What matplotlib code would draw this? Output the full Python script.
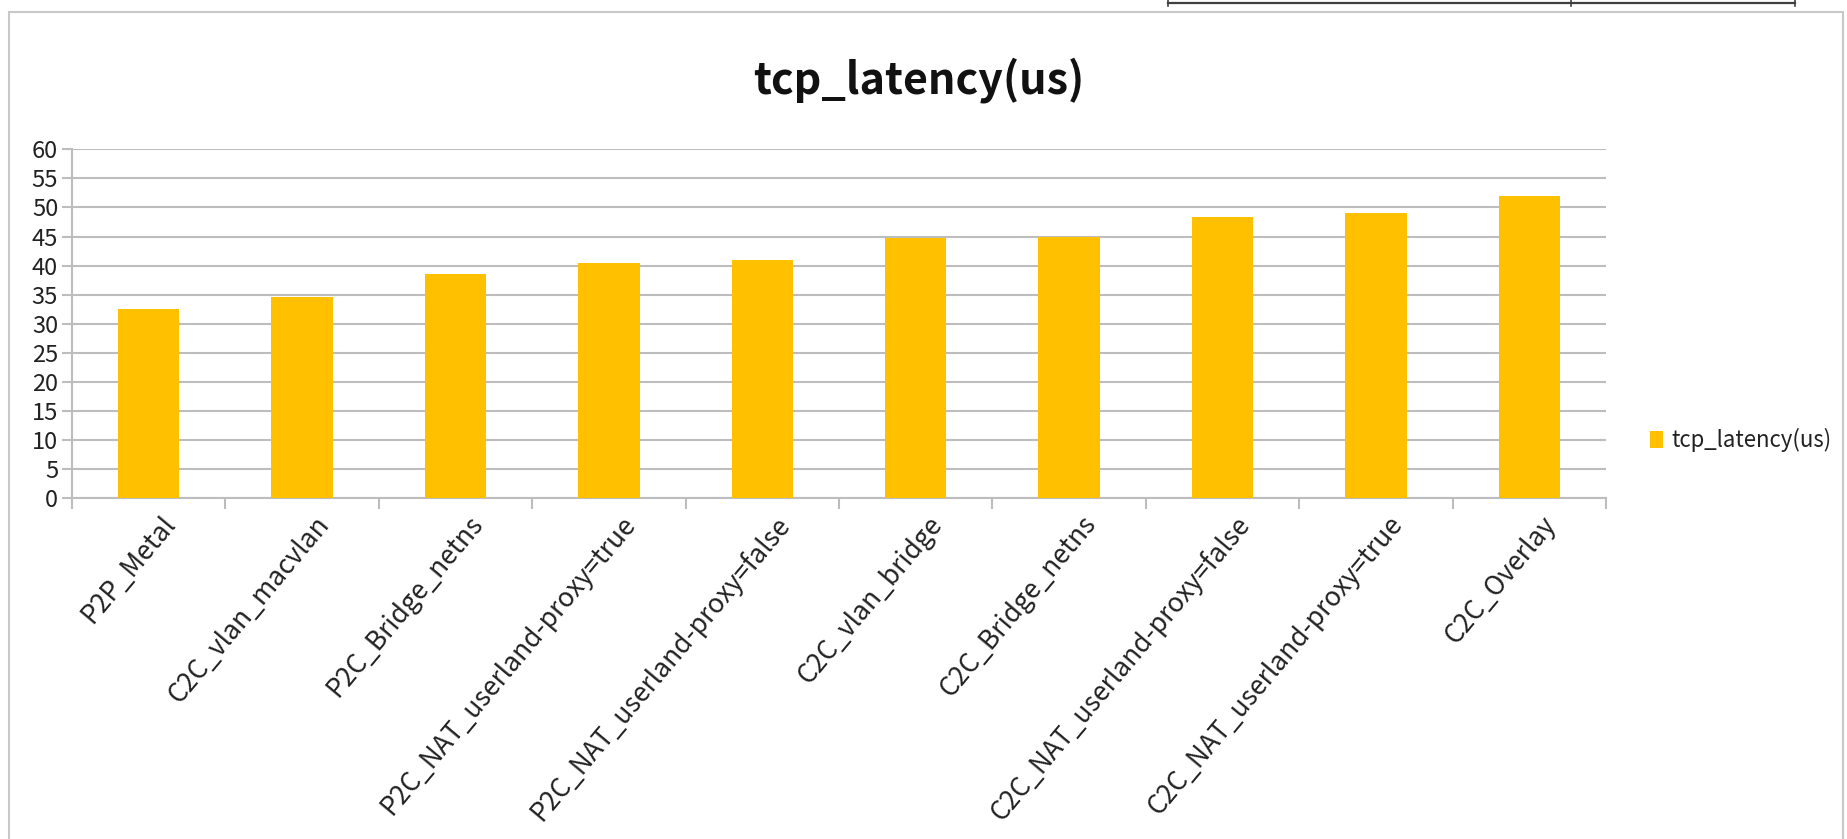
import numpy as np
import matplotlib
matplotlib.use('Agg')
import matplotlib.pyplot as plt
from matplotlib.lines import Line2D
from matplotlib.patches import Rectangle
import matplotlib.transforms as mtransforms

plt.rcParams['font.family'] = ['Noto Sans CJK KR', 'DejaVu Sans']

categories = ['P2P_Metal', 'C2C_vlan_macvlan', 'P2C_Bridge_netns',
              'P2C_NAT_userland-proxy=true', 'P2C_NAT_userland-proxy=false',
              'C2C_vlan_bridge', 'C2C_Bridge_netns',
              'C2C_NAT_userland-proxy=false', 'C2C_NAT_userland-proxy=true',
              'C2C_Overlay']
latency = [32.5, 34.6, 38.5, 40.5, 40.9, 44.7, 44.9, 48.4, 49.1, 51.9]
series_name = 'tcp_latency(us)'
yticks = list(range(0, 61, 5))

W, H = 1847, 839
fig = plt.figure(figsize=(W / 100, H / 100), dpi=100)

# chart frame (screenshot border)
fig.patches.append(Rectangle((9 / W, -0.01), (1843 - 9) / W, 1.01 - 12 / H,
                             transform=fig.transFigure, fill=False,
                             edgecolor='#c8c8c8', linewidth=1.5))
# leftover table edge at the very top of the screenshot
fig.lines.append(Line2D([1168 / W, 1795 / W], [1 - 3 / H, 1 - 3 / H],
                        transform=fig.transFigure, color='#404040', linewidth=1.6))
for xp in [1168, 1571, 1795]:
    fig.lines.append(Line2D([xp / W, xp / W], [1 - 6 / H, 1.0],
                            transform=fig.transFigure, color='#404040', linewidth=1.2))

ax = fig.add_axes([72 / W, 1 - 498.3 / H, (1606 - 72) / W, (498.3 - 149.3) / H])
x = np.arange(len(categories))
bars = ax.bar(x, latency, width=0.4, color='#FFC000', zorder=3, label=series_name)

ax.set_xlim(-0.5, len(categories) - 0.5)
ax.set_ylim(0, 60)
ax.set_yticks(yticks)
ax.set_yticklabels([str(v) for v in yticks], fontsize=17)
ax.yaxis.grid(True, color='#bdbdbd', linewidth=1.5, zorder=0)
ax.set_axisbelow(True)

for side in ['top', 'right']:
    ax.spines[side].set_visible(False)
ax.spines['left'].set_color('#bdbdbd')
ax.spines['bottom'].set_color('#bdbdbd')
ax.spines['left'].set_linewidth(1.5)
ax.spines['bottom'].set_linewidth(1.5)

ax.tick_params(axis='y', length=7, width=1.5, color='#bdbdbd', pad=3, labelcolor='#222222')
ax.set_xticks(x)
ax.set_xticks(np.arange(-0.5, len(categories)), minor=True)
ax.tick_params(axis='x', which='major', length=0, pad=9)
ax.tick_params(axis='x', which='minor', length=8, width=1.5, color='#bdbdbd')
offset = mtransforms.ScaledTranslation(0.12, 0, fig.dpi_scale_trans)
ax.set_xticklabels(categories, rotation=50, ha='right', rotation_mode='anchor',
                   fontsize=19, color='#222222')
for lbl in ax.get_xticklabels():
    lbl.set_transform(lbl.get_transform() + offset)

fig.text(919 / W, 1 - 80 / H, 'tcp_latency(us)', ha='center', va='center',
         fontsize=31, fontweight='bold', color='#111111')

leg = fig.legend(handles=[bars], labels=[series_name], loc='center left',
                 bbox_to_anchor=(1650 / W, 1 - 440 / H), frameon=False,
                 borderpad=0, borderaxespad=0,
                 fontsize=16, handlelength=0.6, handleheight=0.8, handletextpad=0.35)
for t in leg.get_texts():
    t.set_color('#222222')

fig.savefig('out.png', dpi=100, facecolor='white')
